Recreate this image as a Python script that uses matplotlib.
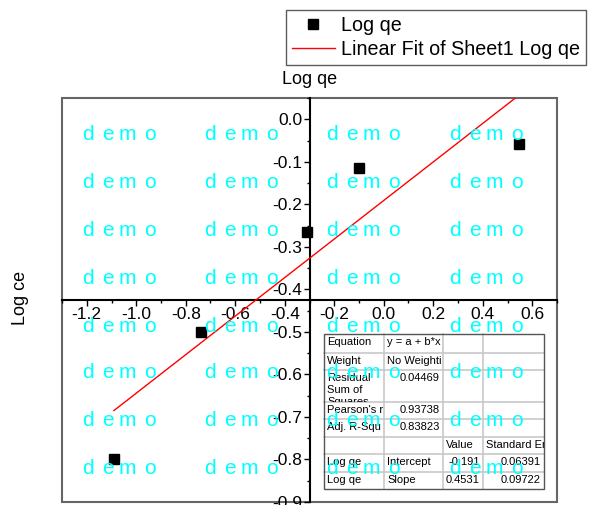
import numpy as np
import matplotlib
matplotlib.use('Agg')
import matplotlib.pyplot as plt
from matplotlib.ticker import MultipleLocator, FormatStrFormatter
from matplotlib.patches import Rectangle

plt.rcParams['font.family'] = ['Liberation Sans', 'DejaVu Sans']

# data
log_qe = [-1.09, -0.74, -0.31, -0.10, 0.546]
log_ce = [-0.80, -0.50, -0.265, -0.115, -0.059]
intercept = -0.191
slope = 0.4531

table_rows = [
    ['Equation', 'y = a + b*x', '', ''],
    ['Weight', 'No Weighti', '', ''],
    ['Residual\nSum of\nSquares', '0.04469', '', ''],
    ["Pearson's r", '0.93738', '', ''],
    ['Adj. R-Squ', '0.83823', '', ''],
    ['', '', 'Value', 'Standard Er'],
    ['Log qe', 'Intercept', '-0.191', '0.06391'],
    ['Log qe', 'Slope', '0.4531', '0.09722'],
]
# which cells are right aligned (numbers)
right_cells = {(2, 1), (3, 1), (4, 1), (6, 2), (6, 3), (7, 2), (7, 3)}

fig = plt.figure(figsize=(5.94, 5.05), dpi=100)
ax = fig.add_axes([62 / 594, 3 / 505, 495 / 594, 404 / 505])

fx = np.array([min(log_qe), max(log_qe)])
ax.plot(fx, intercept + slope * fx, color='red', lw=1, label='Linear Fit of Sheet1 Log qe', zorder=3)
ax.plot(log_qe, log_ce, 's', color='black', ms=6.5, label='Log qe', linestyle='none', zorder=4)

ax.set_xlim(-1.3, 0.7)
ax.set_ylim(-0.9, 0.05)

ax.spines['left'].set_position(('data', -0.3))
ax.spines['bottom'].set_position(('data', -0.425))
ax.spines['left'].set_linewidth(1.5)
ax.spines['bottom'].set_linewidth(1.5)
ax.spines['right'].set_visible(False)
ax.spines['top'].set_visible(False)
ax.add_patch(Rectangle((0, 0), 1, 1, transform=ax.transAxes, fill=False,
                       edgecolor='#666666', lw=1.5, clip_on=False, zorder=1))

ax.xaxis.set_major_locator(MultipleLocator(0.2))
ax.xaxis.set_minor_locator(MultipleLocator(0.1))
ax.yaxis.set_major_locator(MultipleLocator(0.1))
ax.yaxis.set_minor_locator(MultipleLocator(0.05))
ax.xaxis.set_major_formatter(FormatStrFormatter('%.1f'))
ax.yaxis.set_major_formatter(FormatStrFormatter('%.1f'))
ax.tick_params(which='major', direction='out', length=4, width=1, labelsize=12.5, pad=1)
ax.tick_params(which='minor', direction='out', length=2, width=1)

ax.set_title('Log qe', fontsize=13, pad=10)
fig.text(0.035, 0.41, 'Log ce', rotation=90, fontsize=13, ha='center', va='center')

leg = fig.legend(handles=ax.get_lines()[::-1], loc='upper right', bbox_to_anchor=(586 / 594, 1 - 10 / 505),
                 fontsize=14.2, frameon=True, fancybox=False, edgecolor='#333333', borderaxespad=0,
                 handlelength=2.2, borderpad=0.3, labelspacing=0.25, handletextpad=0.3)
leg.get_frame().set_linewidth(1)

# fit results table, in pixel coordinates
tab = fig.add_axes([0, 0, 1, 1], facecolor='none')
tab.set_xlim(0, 594)
tab.set_ylim(505, 0)
tab.axis('off')
col_edges = [324, 384, 443, 483, 544]
row_edges = [334, 353, 370, 402, 419, 437, 454, 472, 489]
tab.add_patch(Rectangle((324, 334), 220, 155, facecolor='white', edgecolor='none', zorder=1))
for c in col_edges[1:-1]:
    tab.plot([c, c], [334, 489], color='#c8c8c8', lw=1.2, zorder=2)
for r in row_edges[1:-1]:
    tab.plot([324, 544], [r, r], color='#c8c8c8', lw=1.2, zorder=2)
tab.add_patch(Rectangle((324, 334), 220, 155, facecolor='none', edgecolor='#555555', lw=1, zorder=3))
for i, row in enumerate(table_rows):
    top, bot = row_edges[i], row_edges[i + 1]
    for j, txt in enumerate(row):
        if not txt:
            continue
        left, right = col_edges[j], col_edges[j + 1]
        if (i, j) in right_cells:
            t = tab.text(right - 3, top + 3, txt, fontsize=8, ha='right', va='top',
                         zorder=4, linespacing=1.22, clip_on=True)
        else:
            t = tab.text(left + 3, top + 3, txt, fontsize=8, ha='left', va='top',
                         zorder=4, linespacing=1.22, clip_on=True)
        t.set_clip_path(Rectangle((left, top), right - left, bot - top, transform=tab.transData))

# demo watermark, letters spread out like the original
letter_dx = [-31.7, -12.5, 7.7, 30.2]
for cx in [120, 242, 364, 487]:
    for cy in [135, 183, 230, 278, 327, 373, 421, 469]:
        for ch, dx in zip('demo', letter_dx):
            tab.text(cx + dx, cy, ch, color='cyan', fontsize=15, ha='center', va='center', zorder=6)

fig.savefig('out.png', dpi=100)
